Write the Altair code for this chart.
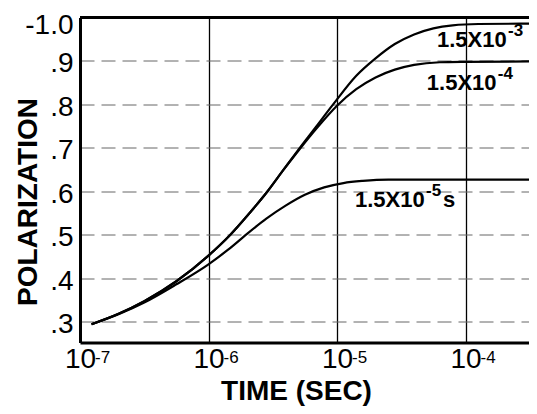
import altair as alt
import pandas as pd

# Curve readings: log10(time in s) and polarization
log_t_a = [-6.91, -6.70, -6.50, -6.25, -6.00, -5.83, -5.68, -5.54, -5.42, -5.31, -5.17, -5.03, -4.85, -4.70, -4.55, -4.40, -4.25, -4.10, -3.90, -3.40]
p_a     = [0.294, 0.318, 0.347, 0.393, 0.452, 0.500, 0.550, 0.600, 0.648, 0.692, 0.746, 0.800, 0.866, 0.906, 0.939, 0.961, 0.975, 0.982, 0.985, 0.986]

log_t_b = [-6.91, -6.70, -6.50, -6.25, -6.00, -5.83, -5.68, -5.54, -5.42, -5.31, -5.15, -5.00, -4.85, -4.70, -4.55, -4.40, -4.20, -4.00, -3.40]
p_b     = [0.294, 0.318, 0.347, 0.393, 0.452, 0.500, 0.550, 0.600, 0.648, 0.690, 0.748, 0.797, 0.835, 0.862, 0.880, 0.891, 0.897, 0.898, 0.899]

log_t_c = [-6.91, -6.70, -6.50, -6.25, -6.00, -5.85, -5.70, -5.55, -5.40, -5.25, -5.10, -4.95, -4.80, -4.60, -3.40]
p_c     = [0.294, 0.317, 0.344, 0.386, 0.432, 0.465, 0.502, 0.537, 0.567, 0.592, 0.609, 0.619, 0.624, 0.627, 0.627]

series_names = ["1.5e-3", "1.5e-4", "1.5e-5"]

# Curve annotations: mantissa part, exponent part, position
label_base = ["1.5X10", "1.5X10", "1.5X10"]
label_exp = ["-3", "-4", "-5"]
label_t = [6.0e-5, 5.0e-5, 1.38e-5]
label_p = [0.948, 0.850, 0.580]
unit_text = ["s"]
unit_t = [1.38e-5]
unit_p = [0.580]

x_ticks = [1e-7, 1e-6, 1e-5, 1e-4]
x_tick_exp = ["-7", "-6", "-5", "-4"]
y_ticks = [0.3, 0.4, 0.5, 0.6, 0.7, 0.8, 0.9, 1.0]

rows = []
for name, lt, pp in zip(series_names, [log_t_a, log_t_b, log_t_c], [p_a, p_b, p_c]):
    for a, b in zip(lt, pp):
        rows.append({"t": 10 ** a, "P": b, "series": name})
df = pd.DataFrame(rows)
df_lab = pd.DataFrame({"t": label_t, "P": label_p, "base": label_base, "exp": label_exp})
df_unit = pd.DataFrame({"t": unit_t, "P": unit_p, "u": unit_text})
df_xexp = pd.DataFrame({"t": x_ticks, "exp": x_tick_exp})
df_top = pd.DataFrame({"P": [1.0]})

FONT = "Liberation Sans, Arial, Helvetica, sans-serif"

Y_MIN = 0.252
xscale = alt.Scale(type="log", domain=[1e-7, 3.12e-4], nice=False)
yscale = alt.Scale(domain=[Y_MIN, 1.0], nice=False, zero=False)

y_expr = "datum.value >= 0.99 ? '-1.0' : '.' + format(datum.value * 10, '.0f')"

xaxis = alt.Axis(values=x_ticks, labelExpr="'10'", labelFont=FONT, labelFontSize=28,
                 labelColor="black", labelAlign="center", labelBaseline="top",
                 labelPadding=3, labelFlush=False, labelOverlap=False, labelBound=False,
                 ticks=False, grid=True, gridColor="black", gridWidth=1.3,
                 domainColor="black", domainWidth=3,
                 title="TIME (SEC)", titleFont=FONT, titleFontSize=28, titleFontWeight="bold",
                 titleColor="black", titleX=216, titleY=57, titleBaseline="alphabetic",
                 titleAlign="center")
yaxis = alt.Axis(values=y_ticks, labelExpr=y_expr, labelFont=FONT, labelFontSize=28,
                 labelColor="black", labelPadding=7, labelBaseline="middle",
                 labelOffset={"condition": {"test": "datum.value >= 0.99", "value": 8}, "value": 3},
                 labelFlush=False, labelOverlap=False, labelBound=False,
                 ticks=False, grid=True, gridColor="#666666", gridWidth=1, gridDash=[14, 7],
                 domainColor="black", domainWidth=3,
                 title="POLARIZATION", titleFont=FONT, titleFontSize=28, titleFontWeight="bold",
                 titleColor="black", titleAngle=270, titleX=-44, titleY=184,
                 titleBaseline="alphabetic", titleAlign="center")

lines = alt.Chart(df).mark_line(color="black", strokeWidth=2.2, interpolate="monotone", clip=True).encode(
    x=alt.X("t:Q", scale=xscale, axis=xaxis),
    y=alt.Y("P:Q", scale=yscale, axis=yaxis),
    detail="series:N",
)

top = alt.Chart(df_top).mark_rule(color="black", strokeWidth=3).encode(
    y=alt.Y("P:Q", scale=yscale)
)

xexp = alt.Chart(df_xexp).mark_text(align="left", baseline="alphabetic", font=FONT,
                                    fontSize=17, color="black", dx=15, dy=20).encode(
    x=alt.X("t:Q", scale=xscale),
    y=alt.datum(Y_MIN, scale=yscale),
    text="exp:N",
)

lab_base = alt.Chart(df_lab).mark_text(align="left", baseline="middle", font=FONT,
                                       fontSize=22, fontWeight="bold", color="black").encode(
    x=alt.X("t:Q", scale=xscale),
    y=alt.Y("P:Q", scale=yscale),
    text="base:N",
)
lab_exp = alt.Chart(df_lab).mark_text(align="left", baseline="middle", font=FONT,
                                      fontSize=17, fontWeight="bold", color="black",
                                      dx=71, dy=-9).encode(
    x=alt.X("t:Q", scale=xscale),
    y=alt.Y("P:Q", scale=yscale),
    text="exp:N",
)
lab_unit = alt.Chart(df_unit).mark_text(align="left", baseline="middle", font=FONT,
                                        fontSize=22, fontWeight="bold", color="black",
                                        dx=88).encode(
    x=alt.X("t:Q", scale=xscale),
    y=alt.Y("P:Q", scale=yscale),
    text="u:N",
)

chart = alt.layer(lines, top, xexp, lab_base, lab_exp, lab_unit).properties(
    width=449, height=325,
    autosize=alt.AutoSizeParams(type="none"),
    padding={"left": 72, "top": 9.5, "right": 0, "bottom": 63.5},
).configure_view(stroke=None).configure(background="white")

chart.save("out.html", embed_options={"renderer": "svg", "actions": False})
